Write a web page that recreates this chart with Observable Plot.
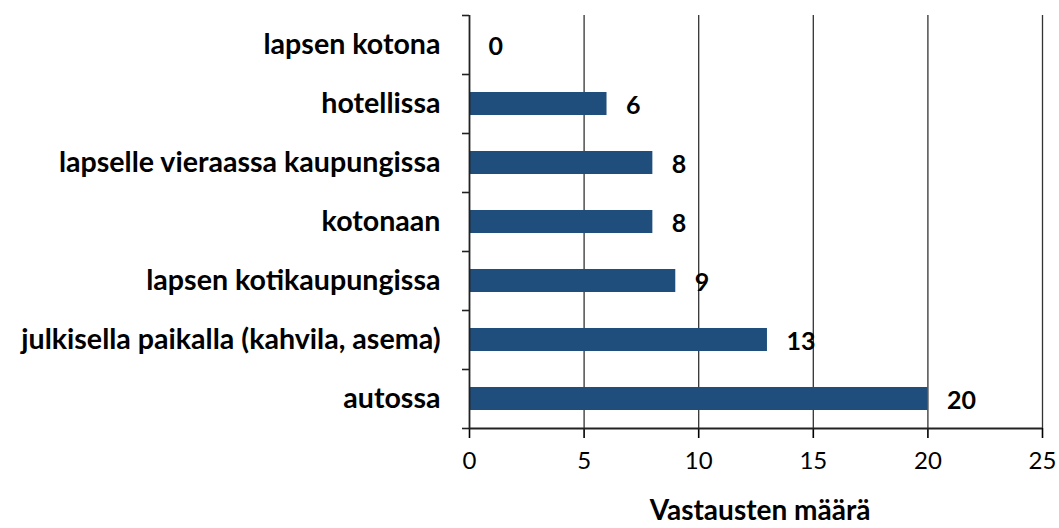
<!DOCTYPE html>
<html>
<head>
<meta charset="utf-8">
<script src="https://cdn.jsdelivr.net/npm/d3@7"></script>
<script src="https://cdn.jsdelivr.net/npm/@observablehq/plot@0.6"></script>
<style>
  html, body { margin: 0; padding: 0; background: white; }
</style>
</head>
<body>
<div id="chart"></div>
<script>
const categories = [
  "lapsen kotona",
  "hotellissa",
  "lapselle vieraassa kaupungissa",
  "kotonaan",
  "lapsen kotikaupungissa",
  "julkisella paikalla (kahvila, asema)",
  "autossa"
];
const values = [0, 6, 8, 8, 9, 13, 20];
const xTicks = [0, 5, 10, 15, 20, 25];
const axisTitle = "Vastausten määrä";

const data = categories.map((c, i) => ({cat: c, i, value: values[i]}));
const bounds = d3.range(categories.length + 1).map(k => k - 0.5);
const centers = d3.range(categories.length);

const chart = Plot.plot({
  width: 1059,
  height: 528,
  marginLeft: 469,
  marginRight: 17,
  marginTop: 15,
  marginBottom: 100,
  style: {fontFamily: "Lato, 'DejaVu Sans', sans-serif", background: "white", color: "black"},
  x: {domain: [0, 25]},
  y: {domain: [-0.5, categories.length - 0.5], reverse: true},
  marks: [
    Plot.gridX(xTicks.slice(1), {stroke: "#333", strokeOpacity: 1, strokeWidth: 1.3}),
    Plot.rectX(data, {x1: 0, x2: "value", y1: d => d.i - 0.195, y2: d => d.i + 0.195, fill: "#1f4e7c"}),
    Plot.axisY(bounds, {tickSize: 7, tickFormat: () => "", label: null, stroke: "#222", strokeWidth: 1.6}),
    Plot.axisY(centers, {tickSize: 0, tickPadding: 29, label: null, tickFormat: i => categories[i], fontSize: 28.6, fontWeight: "bold"}),
    Plot.axisX(xTicks, {tickSize: 10, tickPadding: 13, fontSize: 24, label: null, strokeWidth: 1.6}),
    Plot.ruleX([0], {stroke: "#222", strokeWidth: 1.8}),
    Plot.ruleY([categories.length - 0.5], {stroke: "#222", strokeWidth: 1.8}),
    Plot.text(data, {x: "value", y: "i", text: d => String(d.value), dx: 19, dy: 2, textAnchor: "start", fontWeight: "bold", fontSize: 25}),
    Plot.text([axisTitle], {frameAnchor: "bottom", lineAnchor: "middle", dy: 83, dx: 4, fontWeight: "bold", fontSize: 28})
  ]
});
document.getElementById("chart").appendChild(chart);
</script>
</body>
</html>
